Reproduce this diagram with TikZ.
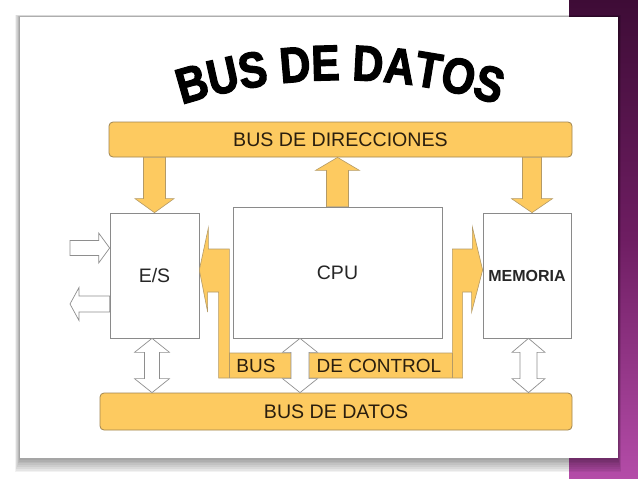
\documentclass[tikz,border=0pt]{standalone}
\usepackage{fontspec}
\setmainfont{Liberation Sans}
\newfontfamily\titlefont[FakeBold=2.5,FakeStretch=0.85]{Liberation Sans Bold}
\usepackage{xcolor}
\usetikzlibrary{calc,decorations.text}
\definecolor{busfill}{HTML}{FDCA60}
\definecolor{busedge}{HTML}{A08550}
\definecolor{arrowedge}{HTML}{B49A66}
\definecolor{boxedge}{HTML}{8A8A8A}
\definecolor{grayedge}{HTML}{8E8E8E}
\definecolor{bustext}{HTML}{2A1E0E}
\definecolor{plumtop}{HTML}{3E0C36}
\definecolor{plummid}{HTML}{6E1D62}
\definecolor{plumbot}{HTML}{B44CA8}

\begin{document}
\begin{tikzpicture}[x=1pt,y=-1pt,
    busbar/.style={draw=busedge, fill=busfill, rounded corners=4pt, line width=0.8pt,
        text=bustext, font=\fontsize{19.6}{22}\selectfont},
    unitbox/.style={draw=boxedge, fill=white, line width=0.7pt, text=black!85,
        font=\fontsize{19.5}{22}\selectfont},
    busarrow/.style={draw=arrowedge, fill=busfill, line width=0.6pt},
    dataarrow/.style={draw=grayedge, fill=white, line width=0.7pt},
    ctrltext/.style={text=bustext, font=\fontsize{19}{22}\selectfont}]

    \useasboundingbox (0,0) rectangle (638,479);
    \fill[white] (0,0) rectangle (638,479);
    \shade[top color=plumtop, bottom color=plumbot, middle color=plummid] (569,0) rectangle (638,478);
    \foreach \i in {1,...,8}
        \fill[black, opacity=0.05] (20-\i*0.6,17-\i*0.3) rectangle (618+\i*0.4,458+\i*1.8);
    \fill[white] (20,17) rectangle (618,458);

    \path[decorate, decoration={text along path, text align=center,
        text={|\titlefont\fontsize{50}{50}\selectfont|BUS DE DATOS}}]
        (128.5,125) arc[start angle=-114, end angle=-66, radius=520];

    \node[busbar, minimum width=463, minimum height=35] (dir) at (340.5,139.5) {BUS DE DIRECCIONES};
    \node[busbar, minimum width=472, minimum height=37] (datos) at (336,411.5) {BUS DE DATOS};
    \node[unitbox, minimum width=89, minimum height=125] (es) at (154.5,275.5) {E/S};
    \node[unitbox, minimum width=209, minimum height=131] (cpu) at (337.5,272.5) {CPU};
    \node[unitbox, minimum width=88, minimum height=125,
        font=\bfseries\fontsize{16}{18}\selectfont] (mem) at (527,275.5) {MEMORIA};

    \coordinate (a0) at (dir.south -| es.north);
    \draw[busarrow] (es.north) -- ++(-19.5,-14) -- ++(8.5,0) -- ([xshift=-11pt]a0)
        -- ([xshift=11pt]a0) -- ($(es.north)+(11,-14)$) -- ++(8.5,0) -- cycle;
    \coordinate (b0) at (dir.south -| cpu.north);
    \draw[busarrow] (b0) -- ++(22,13) -- ++(-11,0) -- ([xshift=11pt]cpu.north)
        -- ([xshift=-11pt]cpu.north) -- ($(b0)+(-11,13)$) -- ++(-11,0) -- cycle;
    \coordinate (m1) at ([xshift=5pt]mem.north);
    \coordinate (m0) at (dir.south -| m1);
    \draw[busarrow] (m1) -- ++(-20.5,-14) -- ++(11,0) -- ([xshift=-9.5pt]m0)
        -- ([xshift=9.5pt]m0) -- ($(m1)+(9.5,-14)$) -- ++(11,0) -- cycle;

    \coordinate (cl) at ([yshift=5.5pt]es.east);
    \coordinate (cr) at ([yshift=5.5pt]mem.west);
    \draw[busarrow] (cl) -- ++(9,-42) -- ++(0,21) -- ++(21,0) -- ++(0,104) -- ++(223,0)
        -- ++(0,-104) -- ++(20,0) -- ++(0,-22) -- (cr) -- ++(-11,42) -- ++(0,-20)
        -- ++(-9,0) -- ++(0,86) -- ++(-244,0) -- ++(0,-86) -- ++(-11,0) -- ++(0,20) -- cycle;
    \draw[arrowedge, line width=0.6pt] ($(cl)+(30,83)$) -- ++(0,25);
    \draw[arrowedge, line width=0.6pt] ($(cl)+(253,83)$) -- ++(0,25);
    \node[ctrltext] (cbus) at (256,366) {BUS};
    \node[ctrltext] (cname) at (379,366) {DE CONTROL};

    \coordinate (e1) at ([xshift=-2.5pt]es.south);
    \coordinate (e2) at (e1 |- datos.north);
    \draw[dataarrow] (e1) -- ++(17.5,14) -- ++(-10,0) -- ($(e2)+(7.5,-14)$) -- ++(10,0)
        -- (e2) -- ++(-17.5,-14) -- ++(10,0) -- ($(e1)+(-7.5,14)$) -- ++(-10,0) -- cycle;
    \coordinate (c1) at ([xshift=-37.5pt]cpu.south);
    \coordinate (c2) at (c1 |- datos.north);
    \draw[dataarrow] (c1) -- ++(17.5,14) -- ++(-8.5,0) -- ($(c2)+(9,-14)$) -- ++(8.5,0)
        -- (c2) -- ++(-17.5,-14) -- ++(8.5,0) -- ($(c1)+(-9,14)$) -- ++(-8.5,0) -- cycle;
    \coordinate (r1) at ([xshift=1.5pt]mem.south);
    \coordinate (r2) at (r1 |- datos.north);
    \draw[dataarrow] (r1) -- ++(16.5,14) -- ++(-8,0) -- ($(r2)+(8.5,-14)$) -- ++(8,0)
        -- (r2) -- ++(-16.5,-14) -- ++(8,0) -- ($(r1)+(-8.5,14)$) -- ++(-8,0) -- cycle;

    \coordinate (i1) at ([yshift=27.5pt]es.west);
    \coordinate (i0) at (70,248);
    \draw[dataarrow] (i1) -- ++(-11,-15) -- ++(0,7.5) -- ($(i0)+(0,-7.5)$) -- ++(0,15)
        -- ($(i1)+(-11,7.5)$) -- ++(0,7.5) -- cycle;
    \coordinate (o1) at ([yshift=-28.5pt]es.west);
    \coordinate (o0) at (70,304);
    \draw[dataarrow] (o0) -- ++(9,-16.5) -- ++(0,8.5) -- ($(o1)+(0,-8)$) -- ++(0,16)
        -- ($(o0)+(9,8)$) -- ++(0,8.5) -- cycle;
\end{tikzpicture}
\end{document}
